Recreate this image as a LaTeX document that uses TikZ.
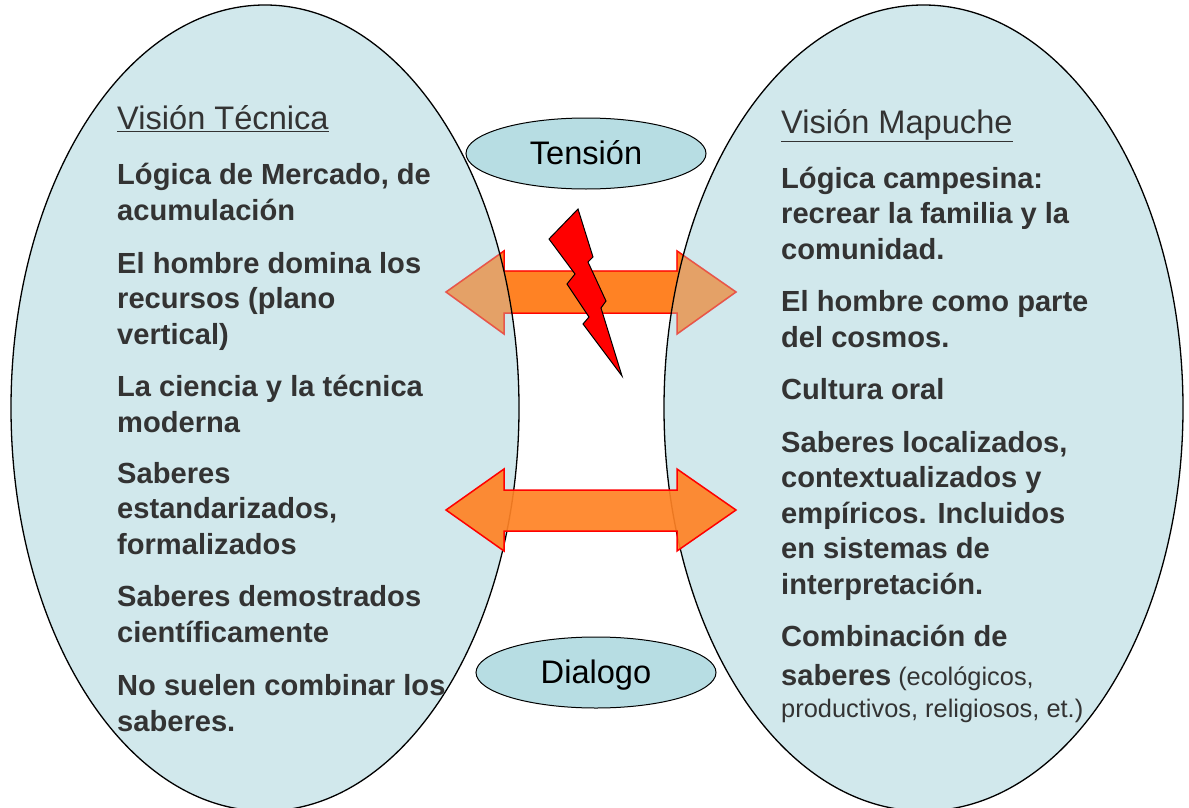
\documentclass[tikz,border=0pt]{standalone}
\usepackage{fontspec}
\setmainfont{Liberation Sans}
\definecolor{inktext}{HTML}{333333}
\definecolor{lensfill}{HTML}{B5DAE0}
\definecolor{ovalfill}{HTML}{B7DDE3}
\definecolor{arrowfill}{HTML}{FF8224}
\tikzset{
  oval/.style={draw=black,line width=1pt,fill=ovalfill},
  arrowshape/.style={draw=red,line width=1.5pt,fill=arrowfill},
  arrowtint/.style={draw=red,draw opacity=.35,line width=1.5pt,fill=arrowfill,fill opacity=.42},
  bolt/.style={draw=black,line width=1pt,fill=red,line join=miter},
  head/.style={anchor=base west,inner sep=0,text=inktext,font=\fontsize{32.6}{36}\selectfont},
  body/.style={anchor=base west,inner sep=0,text=inktext,align=left,font=\fontsize{29.1}{35.5}\selectfont\bfseries},
  small/.style={anchor=base west,inner sep=0,text=inktext,font=\fontsize{25.4}{32}\selectfont},
  label/.style={inner sep=0,text=black,font=\fontsize{32.6}{36}\selectfont}
}
\usetikzlibrary{shapes.geometric}
\begin{document}
\begin{tikzpicture}[x=1pt,y=-1pt]
\useasboundingbox (0,0) rectangle (1189,808);
% upper arrow lies beneath the ellipses
\draw[arrowshape] (446,292) -- (504,251) -- (504,271) -- (677,271) -- (677,251) -- (736,292) -- (677,334) -- (677,313) -- (504,313) -- (504,334) -- cycle;
% ellipses
\fill[lensfill,opacity=.62] (265,408) ellipse [x radius=254,y radius=403];
\fill[lensfill,opacity=.62] (923.5,408) ellipse [x radius=259.5,y radius=403];
\draw[arrowtint] (446,292) -- (504,251) -- (504,271) -- (677,271) -- (677,251) -- (736,292) -- (677,334) -- (677,313) -- (504,313) -- (504,334) -- cycle;
\draw[black,line width=1.3pt] (265,408) ellipse [x radius=254,y radius=403];
\draw[black,line width=1.3pt] (923.5,408) ellipse [x radius=259.5,y radius=403];
% lower arrow above the ellipses
\draw[arrowshape,fill opacity=.92] (446,510) -- (504,469) -- (504,490) -- (677,490) -- (677,469) -- (736,510) -- (677,551) -- (677,531) -- (504,531) -- (504,551) -- cycle;
% lightning
\draw[bolt] (578,209) -- (549,239) -- (575,274) -- (567,284) -- (589,317) -- (583,324) -- (622,376) -- (601,308) -- (606,301) -- (588,262) -- (593,257) -- cycle;
% ovals
\node[oval,ellipse,minimum width=240pt,minimum height=71pt,inner sep=0] (tension) at (586,153.5) {};
\node[oval,ellipse,minimum width=240pt,minimum height=71pt,inner sep=0] (dialogo) at (596,672.5) {};
\node[label] (tensiontext) at (586,153) {Tensión};
\node[label] (dialogotext) at (596,675) {Dialogo};
% left text
\node[head] (lh) at (117,129.5) {\underline{Visión Técnica}};
\node[body] (l1) at (117,220) {Lógica de Mercado, de\\acumulación};
\node[body] (l2) at (117,344) {El hombre domina los\\recursos (plano\\vertical)};
\node[body] (l3) at (117,432) {La ciencia y la técnica\\moderna};
\node[body] (l4) at (117,554) {Saberes\\estandarizados,\\formalizados};
\node[body] (l5) at (117,642) {Saberes demostrados\\científicamente};
\node[body] (l6) at (117,731) {No suelen combinar los\\saberes.};
% right text
\node[head] (rh) at (781,133.5) {\underline{Visión Mapuche}};
\node[body] (r1) at (781,259) {Lógica campesina:\\recrear la familia y la\\comunidad.};
\node[body] (r2) at (781,347) {El hombre como parte\\del cosmos.};
\node[body] (r3) at (781,399) {Cultura oral};
\node[body] (r4) at (781,594) {Saberes localizados,\\contextualizados y\\empíricos. Incluidos\\en sistemas de\\interpretación.};
\node[body] (r5) at (781,646) {Combinación de};
\node[small] (r6) at (781,685) {{\fontsize{29.1}{32}\selectfont\bfseries saberes} (ecológicos,};
\node[small] (r7) at (781,717) {productivos, religiosos, et.)};
\end{tikzpicture}
\end{document}
